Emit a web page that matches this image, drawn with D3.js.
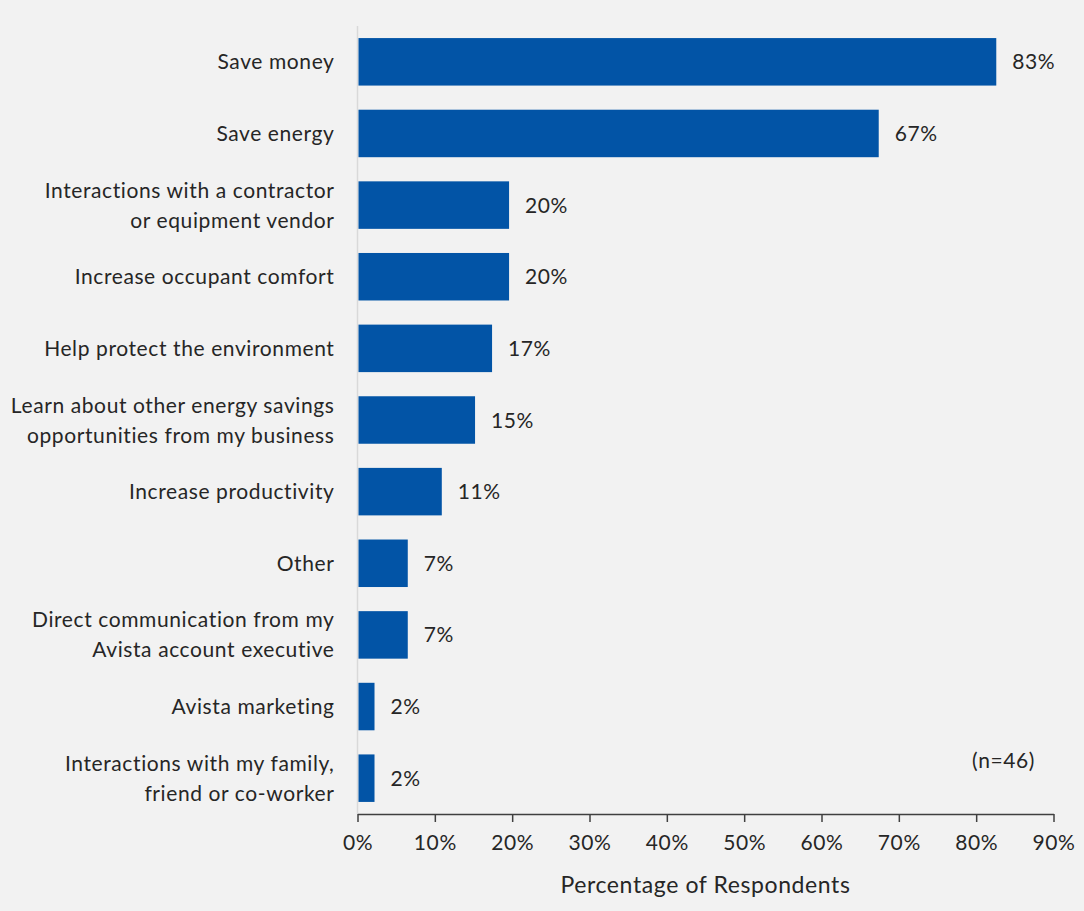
<!DOCTYPE html>
<html>
<head>
<meta charset="utf-8">
<script src="https://cdn.jsdelivr.net/npm/d3@7"></script>
<style>
  html, body { margin: 0; padding: 0; background: #f2f2f2; }
  svg { display: block; }
  text { font-family: Lato, "Liberation Sans", sans-serif; fill: #262626; letter-spacing: 0.6px; }
</style>
</head>
<body>
<svg id="chart" width="1084" height="911"></svg>
<script>
// Reasons cited by respondents (share of respondents, n=46)
const categories = [
  "Save money",
  "Save energy",
  "Interactions with a contractor\nor equipment vendor",
  "Increase occupant comfort",
  "Help protect the environment",
  "Learn about other energy savings\nopportunities from my business",
  "Increase productivity",
  "Other",
  "Direct communication from my\nAvista account executive",
  "Avista marketing",
  "Interactions with my family,\nfriend or co-worker"
];
const values = [82.6, 67.4, 19.6, 19.6, 17.4, 15.2, 10.9, 6.5, 6.5, 2.2, 2.2];
const tickValues = [0, 10, 20, 30, 40, 50, 60, 70, 80, 90];
const axisTitle = "Percentage of Respondents";
const sampleNote = "(n=46)";

const svg = d3.select("#chart");
const plotLeft = 357.5, plotRight = 1053.5, plotTop = 26, plotBottom = 814;
const fontSize = 21;

const x = d3.scaleLinear().domain([0, 90]).range([plotLeft, plotRight]);
const y = d3.scaleBand().domain(categories).range([plotTop, plotBottom])
  .paddingInner(0.337).paddingOuter(0.1685);

// vertical category axis line
svg.append("line")
  .attr("x1", plotLeft).attr("x2", plotLeft)
  .attr("y1", plotTop).attr("y2", plotBottom)
  .attr("stroke", "#d9d9d9").attr("stroke-width", 1.5);

// bars
svg.append("g").selectAll("rect")
  .data(categories)
  .join("rect")
  .attr("x", x(0) + 1)
  .attr("y", d => y(d))
  .attr("width", (d, i) => x(values[i]) - x(0) - 1)
  .attr("height", y.bandwidth())
  .attr("fill", "#0254a6");

// value labels
svg.append("g").selectAll("text")
  .data(categories)
  .join("text")
  .attr("x", (d, i) => x(values[i]) + 16)
  .attr("y", d => y(d) + y.bandwidth() / 2)
  .attr("dy", "0.36em")
  .attr("font-size", fontSize)
  .text((d, i) => d3.format(".0f")(values[i]) + "%");

// category labels (may wrap to two lines)
const lineHeight = 30;
const catLabels = svg.append("g").selectAll("text")
  .data(categories)
  .join("text")
  .attr("text-anchor", "end")
  .attr("font-size", fontSize)
  .attr("x", plotLeft - 23)
  .attr("y", d => y(d) + y.bandwidth() / 2);
catLabels.each(function(d) {
  const lines = d.split("\n");
  const t = d3.select(this);
  const y0 = -(lines.length - 1) * lineHeight / 2;
  lines.forEach((ln, k) => {
    t.append("tspan")
      .attr("x", plotLeft - 23)
      .attr("dy", k === 0 ? (y0 + 0.36 * fontSize) : lineHeight)
      .text(ln);
  });
});

// x axis
const xAxis = d3.axisBottom(x)
  .tickValues(tickValues)
  .tickSize(8)
  .tickSizeOuter(0)
  .tickPadding(13)
  .tickFormat(d => d + "%");
const gx = svg.append("g")
  .attr("transform", `translate(0,${plotBottom})`)
  .call(xAxis);
gx.attr("font-family", null).attr("font-size", null);
gx.select(".domain").attr("stroke", "#404040").attr("stroke-width", 1.5);
gx.selectAll(".tick line").attr("stroke", "#404040").attr("stroke-width", 1.5);
gx.selectAll(".tick text")
  .attr("font-size", fontSize)
  .attr("fill", "#262626");

// axis title
svg.append("text")
  .attr("x", (plotLeft + plotRight) / 2)
  .attr("y", 893)
  .attr("text-anchor", "middle")
  .attr("font-size", 23)
  .text(axisTitle);

// sample size note
svg.append("text")
  .attr("x", 1035)
  .attr("y", 768)
  .attr("text-anchor", "end")
  .attr("font-size", fontSize)
  .text(sampleNote);
</script>
</body>
</html>
